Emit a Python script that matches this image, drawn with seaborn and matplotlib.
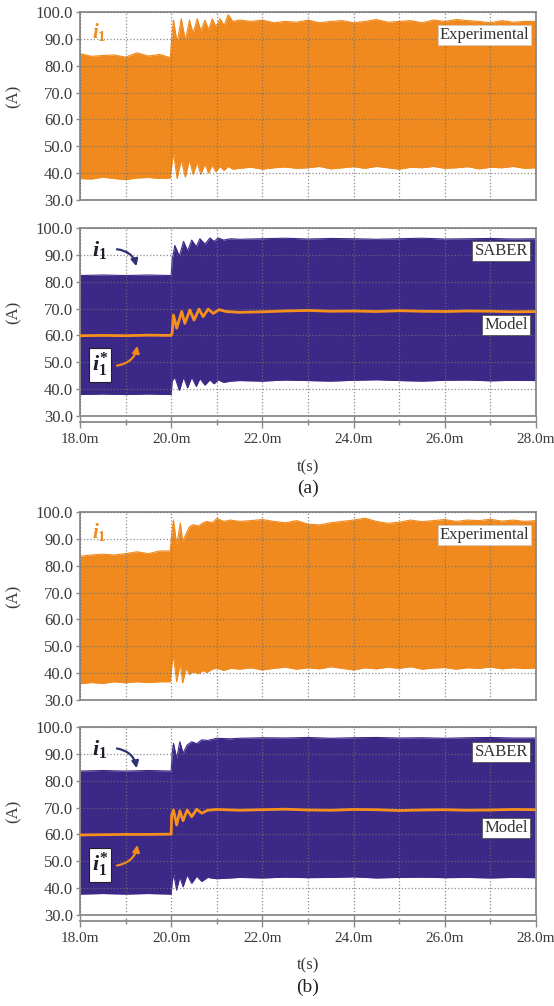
import numpy as np
import pandas as pd
import matplotlib
matplotlib.use("Agg")
import matplotlib.pyplot as plt
import seaborn as sns
from matplotlib.ticker import MultipleLocator, FuncFormatter

# time in ms, current in A
t_steady_q = [21.5, 21.75, 22.0, 22.25, 22.5, 22.75, 23.0, 23.25, 23.5, 23.75, 24.0, 24.25, 24.5, 24.75,
              25.0, 25.25, 25.5, 25.75, 26.0, 26.25, 26.5, 26.75, 27.0, 27.25, 27.5, 27.75, 28.0]
t_pre_q = [18.0, 18.25, 18.5, 18.75, 19.0, 19.25, 19.5, 19.75, 19.98]
t_steady_h = [21.5, 22.0, 22.5, 23.0, 23.5, 24.0, 24.5, 25.0, 25.5, 26.0, 26.5, 27.0, 27.5, 28.0]
t_pre_h = [18.0, 18.5, 19.0, 19.5, 20.0]

# (a) experimental
a_exp_t = t_pre_q + [20.02, 20.05, 20.13, 20.22, 20.31, 20.4, 20.48, 20.57, 20.65, 20.74, 20.82, 20.9,
                     20.98, 21.07, 21.16, 21.25, 21.35] + t_steady_q
a_exp_hi = [84.5, 83.5, 83.8, 84.0, 83.2, 84.8, 83.6, 84.2, 83.0,
            92.0, 97.0, 88.5, 97.5, 89.5, 97.0, 92.0, 97.5, 93.0, 97.0, 93.5, 97.5, 94.5, 97.5, 95.0, 99.0, 96.5,
            97.0, 96.5, 97.0, 96.0, 96.5, 96.2, 97.0, 96.0, 96.5, 96.8, 96.0, 96.5, 97.2, 96.2, 96.5, 96.8,
            96.0, 97.0, 96.5, 97.2, 96.8, 96.5, 96.0, 96.8, 96.2, 96.5, 96.5]
a_exp_lo = [38.0, 37.8, 38.5, 38.0, 37.6, 38.2, 38.4, 38.0, 38.2,
            44.0, 47.5, 38.0, 45.0, 38.5, 45.0, 39.5, 44.0, 39.5, 43.5, 40.0, 43.0, 40.5, 42.5, 41.0, 42.5, 41.5,
            41.8, 42.2, 41.5, 42.0, 42.3, 41.8, 42.0, 42.5, 41.6, 42.0, 42.4, 41.8, 42.5, 42.0, 41.5, 42.2,
            42.0, 42.5, 41.8, 42.0, 42.4, 41.6, 42.2, 42.0, 42.5, 41.8, 42.0]

# (a) SABER
a_sim_t = t_pre_h + [20.02, 20.08, 20.18, 20.27, 20.36, 20.45, 20.55, 20.63, 20.74, 20.85, 20.94, 21.03,
                     21.15, 21.3] + t_steady_h
a_sim_hi = [82.3, 82.5, 82.3, 82.5, 82.3,
            88.0, 93.5, 89.5, 95.0, 91.5, 95.5, 93.0, 96.0, 94.0, 96.3, 95.0, 96.3, 95.5, 96.0,
            95.8, 96.0, 96.2, 95.9, 96.1, 96.0, 95.8, 96.0, 96.2, 95.9, 96.0, 96.1, 95.9, 96.0]
a_sim_lo = [38.0, 38.2, 38.0, 38.2, 38.0,
            43.0, 44.5, 39.5, 44.5, 40.5, 44.5, 41.0, 44.0, 41.5, 43.5, 42.0, 43.5, 42.5, 43.0,
            43.2, 43.0, 43.4, 43.2, 43.0, 43.3, 43.5, 43.2, 43.0, 43.3, 43.4, 43.1, 43.3, 43.2]

# (a) model
a_mod_t = t_pre_h + [20.02, 20.05, 20.12, 20.23, 20.30, 20.41, 20.50, 20.61, 20.70, 20.81, 20.92,
                     21.05, 21.2] + t_steady_h
a_mod_i = [59.9, 60.0, 59.9, 60.1, 60.0,
           61.0, 67.6, 62.7, 68.9, 64.5, 69.5, 65.7, 69.8, 67.0, 69.8, 68.2, 69.6, 68.9,
           68.6, 68.8, 69.1, 69.3, 69.0, 69.1, 68.9, 69.2, 69.0, 68.9, 69.1, 69.0, 68.8, 68.9]

# (b) experimental
b_exp_t = t_pre_q + [20.02, 20.05, 20.12, 20.2, 20.25, 20.33, 20.4, 20.48, 20.6, 20.7, 20.78, 20.9,
                     21.0, 21.15, 21.3] + t_steady_q
b_exp_hi = [83.5, 84.0, 84.3, 84.0, 84.5, 85.2, 84.5, 85.5, 85.5,
            93.0, 97.0, 87.7, 95.9, 89.0, 92.0, 94.5, 95.3, 94.8, 96.0, 96.5, 96.0, 97.6, 96.5, 97.0,
            96.5, 96.8, 97.2, 96.5, 96.0, 96.8, 95.5, 95.2, 96.0, 96.5, 97.0, 97.7, 96.5, 95.8,
            96.2, 97.0, 96.4, 96.8, 97.2, 96.5, 97.0, 96.8, 97.3, 96.6, 97.0, 96.5, 96.8]
b_exp_lo = [36.0, 36.5, 36.2, 36.8, 36.4, 36.8, 36.5, 36.8, 36.8,
            44.0, 46.1, 36.8, 43.7, 36.4, 41.9, 39.5, 40.5, 39.8, 41.0, 40.2, 41.5, 41.9, 41.0, 41.8,
            41.5, 42.0, 41.2, 41.8, 42.2, 41.5, 42.0, 41.6, 42.4, 41.8, 41.2, 42.0, 41.6, 42.2,
            41.8, 42.4, 41.5, 41.9, 42.1, 41.5, 42.0, 41.8, 42.3, 41.6, 42.0, 41.7, 41.9]

# (b) SABER
b_sim_t = t_pre_h + [20.02, 20.05, 20.12, 20.19, 20.26, 20.35, 20.45, 20.56, 20.67, 20.8, 21.0,
                     21.3] + t_steady_h
b_sim_hi = [83.6, 83.8, 83.6, 83.8, 83.6,
            90.0, 93.9, 88.3, 94.5, 90.2, 93.3, 94.5, 93.8, 95.2, 95.0, 95.8, 95.6,
            95.8, 96.0, 95.9, 96.1, 95.8, 96.0, 96.1, 95.9, 96.0, 95.8, 96.0, 96.1, 95.9, 95.9]
b_sim_lo = [37.8, 38.0, 37.8, 38.0, 37.8,
            42.0, 45.5, 39.3, 44.3, 40.5, 45.0, 41.8, 44.5, 42.5, 44.0, 43.5, 43.8,
            44.0, 43.8, 44.1, 43.9, 44.0, 44.2, 43.8, 44.0, 44.1, 43.9, 44.0, 43.8, 44.0, 43.9]

# (b) model
b_mod_t = t_pre_h + [20.01, 20.05, 20.12, 20.19, 20.26, 20.35, 20.45, 20.56, 20.67, 20.8, 21.0] + t_steady_h
b_mod_i = [59.8, 59.9, 60.0, 60.0, 60.1,
           67.2, 69.1, 63.5, 68.8, 65.1, 69.1, 66.6, 69.4, 67.9, 69.0, 69.3,
           69.0, 69.2, 69.4, 69.1, 69.0, 69.3, 69.2, 68.9, 69.1, 69.2, 69.0, 69.1, 69.3, 69.2]

ORANGE = '#F08A1E'
PURPLE = '#3C2886'
NAVY = '#2E3270'
SPINE = '#8a8a8a'
TXT = '#3a3a3a'

sns.set_style("white")
plt.rcParams['font.family'] = ['Liberation Serif', 'DejaVu Serif']
plt.rcParams.update({'mathtext.fontset': 'custom',
                     'mathtext.it': 'Liberation Serif:italic:bold',
                     'mathtext.rm': 'Liberation Serif:bold',
                     'mathtext.bf': 'Liberation Serif:bold'})

fig = plt.figure(figsize=(5.54, 10.06), dpi=100)
tops = [12, 228, 512, 727]
axes = [fig.add_axes([80 / 554, 1 - (tp + 188) / 1006, 456 / 554, 188 / 1006]) for tp in tops]


def style(ax, xlabels):
    ax.set_xlim(18, 28)
    ax.set_ylim(30, 100)
    ax.xaxis.set_major_locator(MultipleLocator(2))
    ax.xaxis.set_minor_locator(MultipleLocator(1))
    ax.yaxis.set_major_locator(MultipleLocator(10))
    ax.yaxis.set_major_formatter(FuncFormatter(lambda v, p: f'{v:.1f}'))
    ax.xaxis.set_major_formatter(FuncFormatter(lambda v, p: f'{v:.1f}m'))
    ax.set_axisbelow(False)
    ax.grid(True, which='both', axis='x', ls=':', lw=0.9, color='#707070', alpha=0.8)
    ax.grid(True, which='major', axis='y', ls=':', lw=0.9, color='#707070', alpha=0.8)
    for s in ax.spines.values():
        s.set_color(SPINE)
        s.set_linewidth(1.3)
    ax.tick_params(axis='y', direction='out', length=3, width=1, color=SPINE,
                   labelsize=12, labelcolor=TXT, pad=2, left=True)
    if xlabels:
        ax.spines['bottom'].set_position(('outward', 4))
        ax.axhline(30, color=SPINE, lw=1.3, clip_on=False, zorder=4)
        ax.tick_params(axis='x', which='major', direction='inout', length=9, width=1,
                       color=SPINE, labelsize=11, labelcolor=TXT, pad=4, bottom=True)
        ax.tick_params(axis='x', which='minor', direction='inout', length=5, width=1,
                       color=SPINE, bottom=True)
    else:
        ax.tick_params(axis='x', which='both', length=0, labelbottom=False)
    ax.set_xlabel('')
    ax.set_ylabel('(A)', fontsize=12, color=TXT)
    ax.yaxis.set_label_coords(-0.128, 0.55)


def band(ax, t, hi, lo, color):
    ax.fill_between(t, lo, hi, color=color, lw=0, zorder=1)
    df = pd.DataFrame({'t': t, 'hi': hi, 'lo': lo})
    sns.lineplot(data=df, x='t', y='hi', ax=ax, color=color, lw=0.8, zorder=1)
    sns.lineplot(data=df, x='t', y='lo', ax=ax, color=color, lw=0.8, zorder=1)


def box_label(ax, x, y, s):
    ax.text(x, y, s, transform=ax.transAxes, ha='right', va='center', fontsize=12, color='#333',
            bbox=dict(boxstyle='square,pad=0.12', fc='white', ec='#555', lw=0.6), zorder=6)


def exp_panel(ax, t, hi, lo):
    band(ax, t, hi, lo, ORANGE)
    style(ax, False)
    ax.text(0.042, 0.894, r'$i_{\mathit{1}}$', transform=ax.transAxes, ha='center', va='center',
            fontsize=15, color=ORANGE, zorder=6)
    ax.text(0.985, 0.878, 'Experimental', transform=ax.transAxes, ha='right', va='center',
            fontsize=12, color='#333',
            bbox=dict(boxstyle='square,pad=0.12', fc='white', ec='#cccccc', lw=0.5), zorder=6)


def sim_panel(ax, t, hi, lo, mt, mi, ys):
    band(ax, t, hi, lo, PURPLE)
    sns.lineplot(x=mt, y=mi, ax=ax, color='#F5901F', lw=2.0, zorder=3)
    style(ax, True)
    ax.text(0.042, 0.883, r'$i_{\mathit{1}}$', transform=ax.transAxes, ha='center', va='center',
            fontsize=16, color='#1e1e2a', zorder=6)
    ax.annotate('', xy=(0.125, ys[0]), xytext=(0.075, 0.888), xycoords='axes fraction',
                arrowprops=dict(arrowstyle='-|>', color=NAVY, lw=1.6, mutation_scale=10,
                                connectionstyle='arc3,rad=-0.4'), zorder=6)
    ax.text(0.044, ys[1], r'$i_{\mathit{1}}^{*}$', transform=ax.transAxes, ha='center', va='center',
            fontsize=16, color='#1e1e2a', zorder=6,
            bbox=dict(boxstyle='square,pad=0.12', fc='white', ec='#222', lw=0.8))
    ax.annotate('', xy=(0.127, 0.388), xytext=(0.075, ys[1] - 0.005), xycoords='axes fraction',
                arrowprops=dict(arrowstyle='-|>', color=ORANGE, lw=1.6, mutation_scale=10,
                                connectionstyle='arc3,rad=0.4'), zorder=6)
    box_label(ax, 0.982, ys[2], 'SABER')
    box_label(ax, 0.982, ys[3], 'Model')


exp_panel(axes[0], a_exp_t, a_exp_hi, a_exp_lo)
sim_panel(axes[1], a_sim_t, a_sim_hi, a_sim_lo, a_mod_t, a_mod_i, (0.782, 0.271, 0.878, 0.484))
exp_panel(axes[2], b_exp_t, b_exp_hi, b_exp_lo)
sim_panel(axes[3], b_sim_t, b_sim_hi, b_sim_lo, b_mod_t, b_mod_i, (0.766, 0.266, 0.867, 0.463))

fig.text(308 / 554, 1 - 467 / 1006, 't(s)', ha='center', va='center', fontsize=12, color=TXT)
fig.text(308 / 554, 1 - 488 / 1006, '(a)', ha='center', va='center', fontsize=14, color='#222')
fig.text(308 / 554, 1 - 965 / 1006, 't(s)', ha='center', va='center', fontsize=12, color=TXT)
fig.text(308 / 554, 1 - 987 / 1006, '(b)', ha='center', va='center', fontsize=14, color='#222')

fig.savefig('out.png', dpi=100)
